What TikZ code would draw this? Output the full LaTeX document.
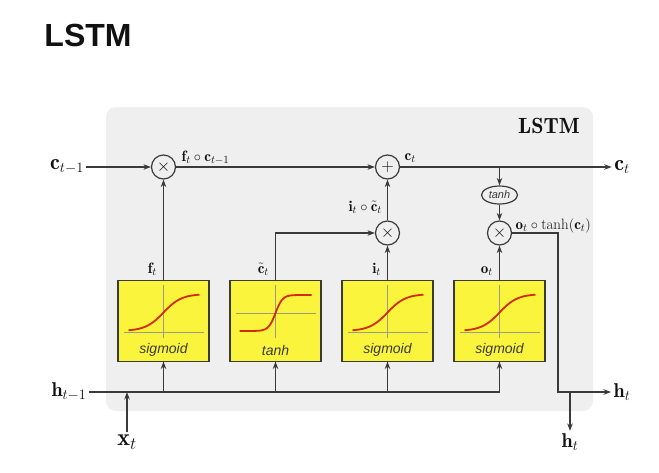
\documentclass[tikz,border=0pt]{standalone}
\usepackage{fontspec}
\usepackage{xcolor}
\newfontfamily\gatefont{Liberation Sans}
\definecolor{panelgray}{HTML}{EFEFEF}
\definecolor{darkgray}{HTML}{3A3A3A}
\definecolor{gateyellow}{RGB}{250,245,60}
\definecolor{curvered}{HTML}{D42A00}
\definecolor{axisgray}{HTML}{9C9C80}
\definecolor{inkblack}{HTML}{111111}
\usetikzlibrary{positioning,arrows.meta,shapes.geometric}

\begin{document}
\begin{tikzpicture}[x=1pt, y=-1pt, node distance = 21pt, line width=1.2pt, color=darkgray, text=inkblack,
		>={Stealth[length=7.5pt,width=5.5pt]},
		gate/.style={
					rectangle, minimum width = 91pt, minimum height = 81pt, outer sep = 0pt,
					draw = darkgray, fill = gateyellow},
		op/.style={circle, minimum size = 24pt, inner sep = 0pt, draw = darkgray,
					font = \fontsize{18}{18}\selectfont},
		lbl/.style={inner sep = 1pt, font = \fontsize{15}{17}\selectfont},
		io/.style={inner sep = 2pt, font = \fontsize{22}{26}\selectfont},
		gname/.style={font = \gatefont\itshape\fontsize{14}{16}\selectfont, text = darkgray}]
		\useasboundingbox (0,0) rectangle (659,472);
		% title and panel
		\node (T) at (88,35) {\gatefont\bfseries\fontsize{32}{36}\selectfont LSTM};
		\fill[panelgray, rounded corners = 10pt] (106,107) rectangle (593,411);
		\node (P) at (549,126) {\fontsize{22}{26}\selectfont$\mathbf{LSTM}$};
		% gates
		\node (F) [gate] at (163.5,321) {};
		\node (C) [gate, right=of F] {};
		\node (I) [gate, right=of C] {};
		\node (O) [gate, right=of I] {};
		\foreach \g in {F,I,O} {
			\begin{scope}[shift={(\g.center)}]
				\draw[axisgray, line width = 0.6pt] (-40,11) -- (40,11);
				\draw[axisgray, line width = 0.6pt] (0,-36) -- (0,17);
				\draw[curvered, line width = 1.8pt] plot[domain=-35:36, samples=40, smooth]
					(\x, {10-37/(1+exp(-\x/9))});
			\end{scope}
			\node[gname] at ([yshift=-29pt]\g.center) {sigmoid};
		}
		\begin{scope}[shift={(C.center)}]
			\draw[axisgray, line width = 0.6pt] (-40,-8) -- (40,-8);
			\draw[axisgray, line width = 0.6pt] (0,-36) -- (0,17);
			\draw[curvered, line width = 1.8pt] plot[domain=-36:36, samples=40, smooth]
				(\x, {-8-18*tanh(\x/7)});
		\end{scope}
		\node[gname] at ([yshift=-29pt]C.center) {tanh};
		% pointwise operations
		\node (FX) [op] at (F |- 0,167) {$\times$};
		\node (PL) [op] at (I |- 0,167) {$+$};
		\node (IX) [op] at (I |- 0,233) {$\times$};
		\node (OX) [op] at (O |- 0,233) {$\times$};
		\node (TH) [ellipse, draw = darkgray, minimum width = 36pt, minimum height = 18pt, inner sep = 0pt,
					font = \gatefont\itshape\fontsize{11}{12}\selectfont, text = darkgray] at (O |- 0,195) {tanh};
		% inputs and outputs
		\node (cprev) [io] at (67,167) {$\mathbf{c}_{t-1}$};
		\node (cnext) [io] at (622,167) {$\mathbf{c}_t$};
		\node (hprev) [io, font = \fontsize{20}{24}\selectfont] at (69,392) {$\mathbf{h}_{t-1}$};
		\node (hnext) [io, font = \fontsize{20}{24}\selectfont] at (622,392) {$\mathbf{h}_t$};
		\node (hout) [io, font = \fontsize{20}{24}\selectfont] at (570,442) {$\mathbf{h}_t$};
		\node (xin) [io, font = \fontsize{24}{28}\selectfont] at (127,442) {$\mathbf{x}_t$};
		\coordinate (CT) at (O |- 0,167);
		\coordinate (HE) at (O |- 0,392);
		\coordinate (HR) at (558,392);
		\coordinate (HB) at (570,392);
		% labels
		\node (ft) [lbl, anchor=base east] at ([xshift=-5pt,yshift=7pt]F.north) {$\mathbf{f}_t$};
		\node (ctl) [lbl, anchor=base east] at ([xshift=-5pt,yshift=7pt]C.north) {$\tilde{\mathbf{c}}_t$};
		\node (it) [lbl, anchor=base east] at ([xshift=-5pt,yshift=7pt]I.north) {$\mathbf{i}_t$};
		\node (ot) [lbl, anchor=base east] at ([xshift=-5pt,yshift=7pt]O.north) {$\mathbf{o}_t$};
		\node (fc) [lbl, anchor=base west] at ([xshift=4pt,yshift=6pt]FX.east) {$\mathbf{f}_t\circ\mathbf{c}_{t-1}$};
		\node (ct) [lbl, anchor=base west] at ([xshift=3pt,yshift=7pt]PL.east) {$\mathbf{c}_t$};
		\node (ic) [lbl, anchor=base east] at ([xshift=-4pt,yshift=9pt]IX.north) {$\mathbf{i}_t\circ\tilde{\mathbf{c}}_t$};
		\node (oc) [lbl, anchor=base west] at ([xshift=2pt,yshift=4pt]OX.east) {$\mathbf{o}_t\circ\tanh(\mathbf{c}_t)$};
		% cell state
		\draw[->] (cprev) -- (FX);
		\draw[->] (FX) -- (PL);
		\draw[->] (PL) -- (cnext);
		\draw[->] (CT) -- (TH);
		\draw[->] (TH) -- (OX);
		\draw[->] (IX) -- (PL);
		% gates to operations
		\draw[->] (F) -- (FX);
		\draw[->] (C) |- (IX);
		\draw[->] (I) -- (IX);
		\draw[->] (O) -- (OX);
		% hidden state and input
		\draw (hprev) -- (HE);
		\draw[->] (xin) -- (xin |- HE);
		\foreach \g in {F,C,I,O}
			\draw[->] (\g |- HE) -- (\g);
		\draw[->] (OX) -| (HR) -- (hnext);
		\draw[->] (HB) -- (hout);
	\end{tikzpicture}
\end{document}
